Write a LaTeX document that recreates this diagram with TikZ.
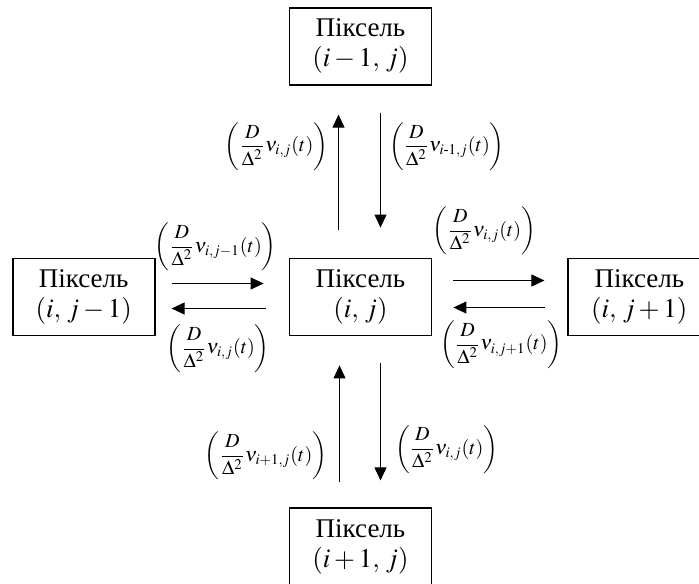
\documentclass[tikz,border=0pt]{standalone}
\usepackage{amsmath}
\usepackage{mathptmx}
\usepackage{fontspec}
\setmainfont{Liberation Serif}
\usetikzlibrary{arrows.meta,positioning}
\tikzset{
  pixbox/.style={rectangle,draw,line width=0.9pt,minimum width=71pt,
    minimum height=38.5pt,align=center,inner sep=2pt,
    font=\fontsize{13.5}{15}\selectfont},
  farrow/.style={-{Triangle[length=6.5pt,width=6pt]},line width=0.5pt},
  flux/.style={font=\fontsize{10}{12}\selectfont,inner sep=1pt}
}
\newcommand{\flx}[1]{$\displaystyle\left(\frac{D}{\Delta^2}\nu_{#1}(t)\right)$}

\begin{document}
\begin{tikzpicture}[x=0.5pt,y=-0.5pt]
  \useasboundingbox (0,0) rectangle (699,583);
  % Pixels
  \node[pixbox] (pc) at (360.5,297) {Піксель\\$(i,\,j)$};
  \node[pixbox,above=86pt of pc] (pu) {Піксель\\$(i-1,\,j)$};
  \node[pixbox,below=85.5pt of pc] (pd) {Піксель\\$(i+1,\,j)$};
  \node[pixbox,left=66.5pt of pc] (pl) {Піксель\\$(i,\,j-1)$};
  \node[pixbox,right=67.5pt of pc] (pr) {Піксель\\$(i,\,j+1)$};

  % Flows up
  \draw[farrow,shorten <=14pt,shorten >=14.5pt] ([xshift=-11pt]pc.north) --
    node[flux,left=4pt,pos=0.645] (f1) {\flx{i,j}} ([xshift=-11pt]pu.south);
  \draw[farrow,shorten <=13.5pt,shorten >=15pt] ([xshift=10pt]pu.south) --
    node[flux,right=3pt,pos=0.355] (f2) {\flx{i\text{-}1,j}} ([xshift=10pt]pc.north);
  % Flows left
  \draw[farrow,shorten <=8pt,shorten >=12.5pt] ([yshift=6.75pt]pl.east) --
    node[flux,above=5pt,pos=0.45] (f3) {\flx{i,j-1}} ([yshift=6.75pt]pc.west);
  \draw[farrow,shorten <=11.5pt,shorten >=8pt] ([yshift=-5.75pt]pc.west) --
    node[flux,below=7pt,pos=0.53] (f4) {\flx{i,j}} ([yshift=-5.75pt]pl.east);
  % Flows right
  \draw[farrow,shorten <=10.5pt,shorten >=11.5pt] ([yshift=8.25pt]pc.east) --
    node[flux,above=11.5pt,pos=0.385] (f5) {\flx{i,j}} ([yshift=8.25pt]pr.west);
  \draw[farrow,shorten <=11pt,shorten >=10.5pt] ([yshift=-5.25pt]pr.west) --
    node[flux,below=5.5pt,pos=0.49] (f6) {\flx{i,j+1}} ([yshift=-5.25pt]pc.east);
  % Flows down
  \draw[farrow,shorten <=12.5pt,shorten >=14.5pt] ([xshift=-10.5pt]pd.north) --
    node[flux,left=5pt,pos=0.30] (f7) {\flx{i+1,j}} ([xshift=-10.5pt]pc.south);
  \draw[farrow,shorten <=13.5pt,shorten >=13.5pt] ([xshift=10pt]pc.south) --
    node[flux,right=6pt,pos=0.66] (f8) {\flx{i,j}} ([xshift=10pt]pd.north);
\end{tikzpicture}
\end{document}
